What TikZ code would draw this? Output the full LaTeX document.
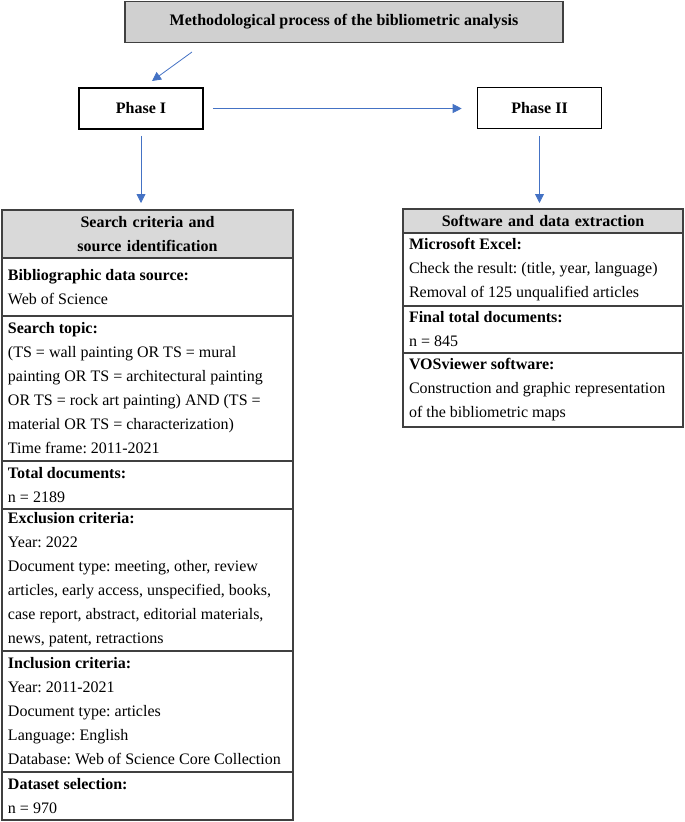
\documentclass[tikz,border=0pt]{standalone}
\usepackage{fontspec}
\setmainfont{Liberation Serif}
\usetikzlibrary{positioning,arrows.meta}

\definecolor{arrowblue}{HTML}{4472C4}
\definecolor{titlegray}{HTML}{D0D0D0}
\definecolor{headgray}{HTML}{D9D9D9}
\definecolor{framegray}{HTML}{404040}

\newcommand{\rowfont}{\fontsize{16}{24}\selectfont\frenchspacing}

\tikzset{
  arr/.style={arrowblue, line width=0.8pt, -{Triangle[length=9pt,width=9pt]}},
  titlebox/.style={draw=framegray, fill=titlegray, line width=1.6pt, minimum width=438pt, minimum height=41pt, font=\rowfont\bfseries},
  phasebox/.style={draw=black, line width=1.6pt, minimum width=124pt, minimum height=41pt, font=\rowfont\bfseries},
  tablerow/.style={draw=framegray, line width=1.1pt, outer sep=0pt, inner xsep=6pt, inner ysep=2pt, align=flush left, font=\rowfont},
  headrow/.style={tablerow, fill=headgray, align=center, font=\rowfont\bfseries},
  leftcol/.style={text width=279pt},
  rightcol/.style={text width=268pt}
}

\begin{document}
\begin{tikzpicture}[x=1pt,y=-1pt]
\useasboundingbox (0,0) rectangle (685,822);

% title and phases
\node[titlebox] (title) at (344,22) {Methodological process of the bibliometric analysis};
\node[phasebox] (p1) at (141,108.5) {Phase I};
\node[phasebox] (p2) at (539.5,108) {Phase II};

% left column: search criteria
\node[headrow, leftcol, minimum height=48pt, anchor=north west] (s0) at (2,210) {Search criteria and\\ source identification};
\node[tablerow, leftcol, minimum height=58pt, below=0pt of s0] (s1) {\textbf{Bibliographic data source:}\\Web of Science};
\node[tablerow, leftcol, minimum height=145pt, below=0pt of s1] (s2) {\textbf{Search topic:}\\(TS = wall painting OR TS = mural\\painting OR TS = architectural painting\\OR TS = rock art painting) AND (TS =\\material OR TS = characterization)\\Time frame: 2011-2021};
\node[tablerow, leftcol, minimum height=48pt, below=0pt of s2] (s3) {\textbf{Total documents:}\\n = 2189};
\node[tablerow, leftcol, minimum height=142pt, below=0pt of s3] (s4) {\textbf{Exclusion criteria:}\\Year: 2022\\Document type: meeting, other, review\\articles, early access, unspecified, books,\\case report, abstract, editorial materials,\\news, patent, retractions};
\node[tablerow, leftcol, minimum height=121pt, below=0pt of s4] (s5) {\textbf{Inclusion criteria:}\\Year: 2011-2021\\Document type: articles\\Language: English\\Database: Web of Science Core Collection};
\node[tablerow, leftcol, minimum height=48pt, below=0pt of s5] (s6) {\textbf{Dataset selection:}\\n = 970};

% right column: software
\node[headrow, rightcol, minimum height=24pt, anchor=north west] (e0) at (403,209) {Software and data extraction};
\node[tablerow, rightcol, minimum height=73pt, below=0pt of e0] (e1) {\textbf{Microsoft Excel:}\\Check the result: (title, year, language)\\Removal of 125 unqualified articles};
\node[tablerow, rightcol, minimum height=47pt, below=0pt of e1] (e2) {\textbf{Final total documents:}\\n = 845};
\node[tablerow, rightcol, minimum height=74pt, below=0pt of e2] (e3) {\textbf{VOSviewer software:}\\Construction and graphic representation\\of the bibliometric maps};

% arrows
\coordinate (t0) at (192,52);
\coordinate (t1) at (152,81);
\draw[arr] (t0) -- (t1);
\draw[arr, shorten <=9pt, shorten >=15pt] (p1.east) -- (p1.east -| p2.west);
\draw[arr, shorten <=6pt, shorten >=7pt] (p1.south) -- (p1.south |- s0.north);
\draw[arr, shorten <=7pt, shorten >=6pt] (p2.south) -- (p2.south |- e0.north);

\end{tikzpicture}
\end{document}
